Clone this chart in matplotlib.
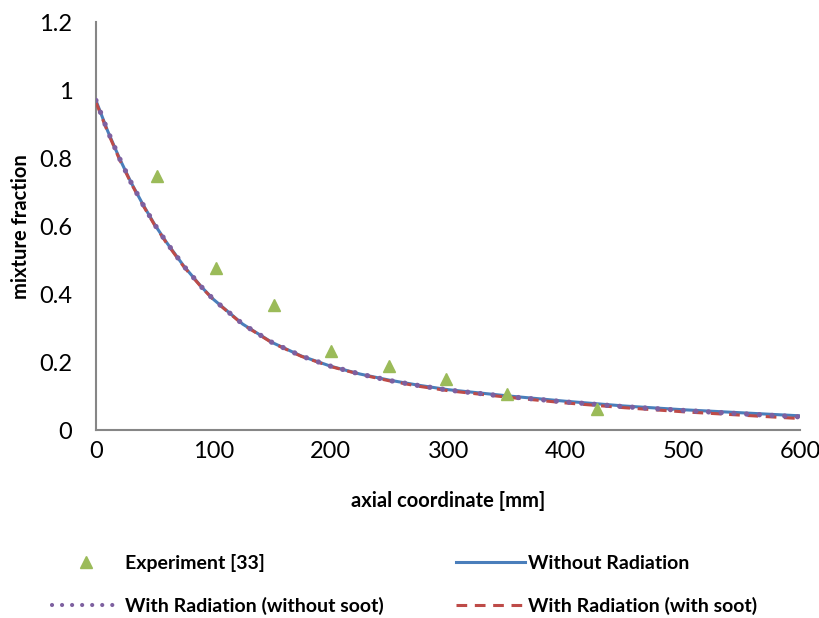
import numpy as np
import matplotlib
matplotlib.use("Agg")
from matplotlib import pyplot as plt
from matplotlib.lines import Line2D

plt.rcParams['font.family'] = ['Lato', 'DejaVu Sans']

# experiment
exp_x = [52, 102, 152, 200, 250, 298, 350, 427]
exp_y = [0.747, 0.476, 0.367, 0.234, 0.190, 0.151, 0.105, 0.063]

# simulations
sim_x = [0, 10, 20, 30, 40, 50, 60, 75, 90, 100, 125, 150, 175, 200, 225,
         250, 275, 300, 350, 400, 450, 500, 550, 600]
no_rad = [0.970, 0.880, 0.800, 0.728, 0.664, 0.605, 0.553, 0.482, 0.421, 0.385,
          0.312, 0.258, 0.218, 0.188, 0.165, 0.147, 0.132, 0.119, 0.101, 0.085,
          0.071, 0.060, 0.051, 0.042]
rad_nosoot = [0.970, 0.880, 0.800, 0.728, 0.664, 0.605, 0.553, 0.482, 0.421, 0.385,
              0.312, 0.258, 0.218, 0.188, 0.165, 0.146, 0.131, 0.118, 0.099, 0.083,
              0.069, 0.058, 0.048, 0.039]
rad_soot = [0.965, 0.877, 0.797, 0.726, 0.662, 0.603, 0.551, 0.480, 0.420, 0.384,
            0.311, 0.257, 0.217, 0.187, 0.164, 0.145, 0.129, 0.116, 0.097, 0.080,
            0.066, 0.054, 0.044, 0.034]

blue = '#4A7EBB'
red = '#BE4B48'
purple = '#7D60A0'
green = '#9BBB59'
grey = '#868686'

dots = (0, (0.01, 2.4))
dashes = (0, (3.5, 2.5))

fig = plt.figure(figsize=(8.2, 6.18), dpi=100)
ax = fig.add_axes([0.117, 0.304, 0.859, 0.660])

ax.plot(sim_x, no_rad, color=blue, lw=2.2, zorder=2)
ax.plot(sim_x, rad_soot, color=red, lw=2.2, ls=dashes, zorder=3)
ax.plot(sim_x, rad_nosoot, color=purple, lw=3.8, ls=dots,
        dash_capstyle='round', zorder=4)
ax.plot(exp_x, exp_y, ls='none', marker='^', ms=9, color=green, zorder=5)

ax.set_xlim(0, 600)
ax.set_ylim(0, 1.2)
ax.set_xticks([0, 100, 200, 300, 400, 500, 600])
ax.set_yticks([0, 0.2, 0.4, 0.6, 0.8, 1.0, 1.2])
ax.set_yticklabels(['0', '0.2', '0.4', '0.6', '0.8', '1', '1.2'])
ax.tick_params(axis='both', length=0, labelsize=17, colors='black')
ax.tick_params(axis='y', pad=17)
ax.tick_params(axis='x', pad=8)
for s in ['top', 'right']:
    ax.spines[s].set_visible(False)
for s in ['left', 'bottom']:
    ax.spines[s].set_color(grey)
    ax.spines[s].set_linewidth(1.5)

ax.set_xlabel('axial coordinate [mm]', fontsize=14.5, fontweight='bold', labelpad=21)
ax.set_ylabel('mixture fraction', fontsize=14.5, fontweight='bold', labelpad=6)

handles = [
    Line2D([], [], ls='none', marker='^', ms=8, color=green),
    Line2D([], [], color=purple, lw=3, ls=dots, dash_capstyle='round'),
    Line2D([], [], color=blue, lw=2.2),
    Line2D([], [], color=red, lw=2.2, ls=dashes),
]
labels = ['Experiment [33]', 'With Radiation (without soot)',
          'Without Radiation', 'With Radiation (with soot)']
fig.legend(handles, labels, ncol=2, loc='upper left',
           bbox_to_anchor=(0.042, 0.132), frameon=False,
           prop={'size': 14, 'weight': 'bold'}, handlelength=3.55,
           handletextpad=0.2, columnspacing=3.7, labelspacing=1.28,
           numpoints=1)

fig.savefig('out.png', dpi=100)
